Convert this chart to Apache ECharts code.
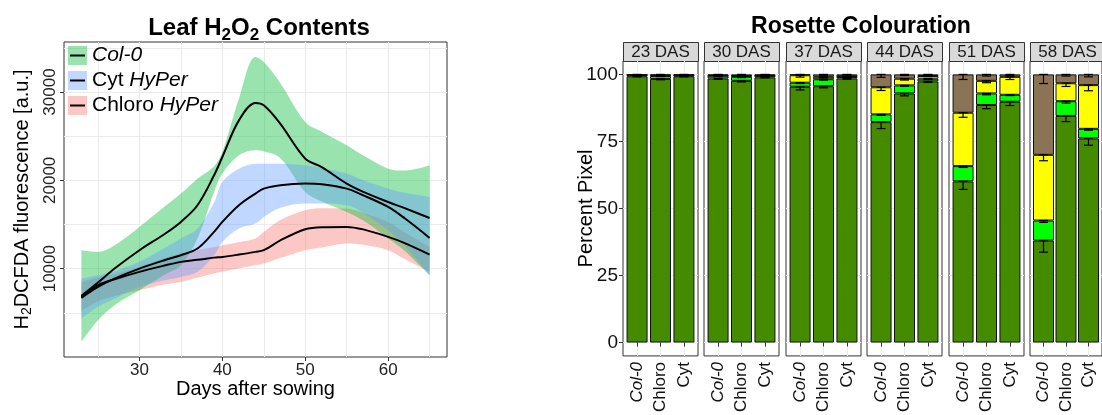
<!DOCTYPE html>
<html>
<head>
<meta charset="utf-8">
<script src="https://cdn.jsdelivr.net/npm/echarts@6/dist/echarts.min.js"></script>
<style>
html, body { margin: 0; padding: 0; background: #fff; }
#chart { width: 1102px; height: 415px; }
</style>
</head>
<body>
<div id="chart"></div>
<script>
// ---- left panel: smoothed H2DCFDA fluorescence (fit + ribbon) ----
var days = [23, 25, 27, 30, 33, 35, 37, 39, 40, 42, 44, 45, 47, 50, 52, 55, 57, 60, 62, 65];
var col0Fit = [6920, 8430, 10010, 12090, 13900, 15290, 17180, 20570, 22640, 26790, 28750, 28490, 26400, 22460, 21500, 19630, 18700, 17550, 16850, 15740];
var col0Hi  = [12090, 11900, 12650, 14730, 17000, 18500, 20190, 21600, 23210, 29240, 33950, 33390, 31000, 26600, 25500, 23960, 22800, 21320, 21100, 21700];
var col0Lo  = [1720, 4170, 5870, 7560, 9300, 10390, 13410, 18690, 20760, 22830, 23400, 23280, 22500, 18690, 17600, 16420, 15450, 13410, 12000, 9260];
var cytFit  = [6700, 7940, 8880, 10010, 10960, 11520, 12280, 14160, 15290, 17180, 18500, 19060, 19450, 19630, 19550, 19060, 18300, 16990, 15700, 13480];
var cytHi   = [8880, 9260, 9700, 10770, 12300, 13410, 14540, 17500, 19820, 21320, 21890, 21890, 21890, 21700, 21400, 20760, 20000, 19060, 18600, 18120];
var cytLo   = [4360, 5680, 6600, 7940, 8700, 9070, 9640, 11520, 13030, 14540, 15100, 15860, 16900, 17370, 17370, 17180, 16300, 14350, 12600, 9260];
var chlFit  = [6810, 8130, 8800, 9640, 10350, 10770, 11000, 11250, 11330, 11600, 11900, 12090, 13200, 14460, 14700, 14730, 14450, 13600, 12900, 11600];
var chlHi   = [8500, 9000, 9400, 10200, 11200, 11710, 12090, 12450, 12650, 13000, 13410, 14160, 15500, 16610, 16850, 16800, 16300, 15290, 14100, 12500];
var chlLo   = [5200, 6300, 6900, 7560, 8200, 8500, 9000, 9450, 9640, 10050, 10390, 10580, 11200, 12090, 12400, 12840, 12700, 12090, 11100, 9640];
var dayTicks = [30, 40, 50, 60];
var dayMinor = [25, 35, 45, 55, 65];
var fluorTicks = [10000, 20000, 30000];
var fluorMinor = [5000, 15000, 25000, 35000];
var legendNames = ['Col-0', 'Cyt HyPer', 'Chloro HyPer'];

// ---- right panel: rosette colouration, stacked % per facet (rows) and genotype (cols) ----
var facets = ['23 DAS', '30 DAS', '37 DAS', '44 DAS', '51 DAS', '58 DAS'];
var genotypes = ['Col-0', 'Chloro', 'Cyt'];
var pctTicks = [0, 25, 50, 75, 100];
var darkGreen   = [[99.3, 98.3, 99.3], [98.5, 97.6, 98.9], [95.4, 95.6, 98.5], [82.2, 92.9, 97.4], [60.1, 88.6, 89.8], [38.0, 84.5, 76.1]];
var brightGreen = [[0.4, 1.1, 0.3], [1.0, 1.5, 0.6], [1.5, 2.6, 0.6], [2.9, 3.0, 1.0], [5.7, 4.3, 2.6], [7.5, 5.5, 3.6]];
var yellow      = [[0.1, 0.3, 0.1], [0.1, 0.3, 0.1], [2.8, 0.9, 0.2], [10.1, 2.5, 1.0], [19.9, 4.7, 6.7], [24.5, 6.7, 16.3]];
var brown       = [[0.2, 0.3, 0.3], [0.4, 0.6, 0.4], [0.3, 0.9, 0.7], [4.8, 1.6, 0.6], [14.3, 2.4, 0.9], [30.0, 3.3, 4.0]];
var darkErr     = [[0.2, 0.3, 0.2], [0.3, 0.4, 0.2], [1.2, 0.6, 0.3], [2.4, 0.9, 0.4], [3.0, 1.4, 1.4], [4.3, 2.1, 2.5]];
var brightErr   = [[0.1, 0.2, 0.1], [0.2, 0.3, 0.1], [0.3, 0.3, 0.2], [0.4, 0.3, 0.2], [0.5, 0.5, 0.3], [0.7, 0.7, 0.5]];
var yellowErr   = [[0.1, 0.1, 0.1], [0.1, 0.1, 0.1], [0.7, 0.3, 0.1], [1.2, 0.5, 0.2], [1.7, 0.7, 1.0], [2.2, 1.2, 2.1]];
var brownErr    = [[0.1, 0.1, 0.1], [0.1, 0.1, 0.1], [0.2, 0.3, 0.2], [1.1, 0.4, 0.2], [1.9, 0.6, 0.4], [3.4, 0.6, 0.9]];

var FONT = 'Liberation Sans';
var myChart = echarts.init(document.getElementById('chart'));

// value first so that stacking (which uses the first numeric dimension) sums y, not x
function pairs(ys) {
	return days.map(function(d, i) { return [ys[i], d]; });
}
function widths(hi, lo) {
	return days.map(function(d, i) { return [hi[i] - lo[i], d]; });
}

// drawn in factor order (alphabetical), ribbon then line per group
var groups = [
	{ name: 'Chloro HyPer', fit: chlFit, hi: chlHi, lo: chlLo, color: 'rgba(248,118,109,0.4)' },
	{ name: 'Col-0', fit: col0Fit, hi: col0Hi, lo: col0Lo, color: 'rgba(0,186,56,0.4)' },
	{ name: 'Cyt HyPer', fit: cytFit, hi: cytHi, lo: cytLo, color: 'rgba(97,156,255,0.4)' }
];
var colorOf = {};
var series = [];
groups.forEach(function(g) {
	colorOf[g.name] = g.color;
	series.push({
		type: 'line', name: g.name + ' lo', xAxisIndex: 0, yAxisIndex: 0, stack: g.name,
		encode: { x: 1, y: 0 },
		data: pairs(g.lo), smooth: 0.35, symbol: 'none', silent: true,
		lineStyle: { opacity: 0, width: 0 }
	});
	series.push({
		type: 'line', name: g.name, xAxisIndex: 0, yAxisIndex: 0, stack: g.name,
		encode: { x: 1, y: 0 },
		data: widths(g.hi, g.lo), smooth: 0.35, symbol: 'none', silent: true,
		itemStyle: { color: g.color },
		lineStyle: { width: 0, opacity: 0 },
		areaStyle: { color: g.color, opacity: 1 }
	});
	series.push({
		type: 'line', name: g.name + ' fit', xAxisIndex: 0, yAxisIndex: 0,
		encode: { x: 1, y: 0 },
		data: pairs(g.fit), smooth: 0.35, symbol: 'none', silent: true,
		lineStyle: { color: '#000', width: 2 }
	});
});

// facet geometry
var facetLeft = [623, 704, 786, 867, 949, 1030];
var facetW = 75, facetTop = 61, facetH = 295, stripTop = 42;

var grids = [{ left: 64, top: 42, width: 383, height: 315, show: true, borderColor: '#333', borderWidth: 1 }];
var xAxes = [
	{
		gridIndex: 0, type: 'value', min: 20.9, max: 67.1, splitNumber: 5,
		axisLine: { show: false },
		axisTick: { show: true, length: 4, customValues: dayTicks, lineStyle: { color: '#333' } },
		axisLabel: { customValues: dayTicks, fontSize: 17, color: '#222', margin: 5, fontFamily: FONT,
			formatter: function(v) { return v % 10 === 0 ? String(v) : ''; } },
		splitLine: { show: true, lineStyle: { color: '#ebebeb', width: 1.2 } },
		name: 'Days after sowing', nameLocation: 'middle', nameGap: 22, nameMoveOverlap: false,
		nameTextStyle: { fontSize: 20, color: '#000', fontFamily: FONT }
	},
	{
		gridIndex: 0, type: 'value', min: 20.9, max: 67.1, splitNumber: 10,
		axisLine: { show: false }, axisTick: { show: false, customValues: dayMinor }, axisLabel: { show: false, customValues: dayMinor },
		splitLine: { show: true, lineStyle: { color: '#ebebeb', width: 1 } }
	}
];
var yAxes = [
	{
		gridIndex: 0, type: 'value', min: 0, max: 35660,
		axisLine: { show: false },
		axisTick: { show: true, length: 4, customValues: fluorTicks, lineStyle: { color: '#333' } },
		axisLabel: { customValues: fluorTicks, rotate: 90, fontSize: 17, color: '#222', margin: 5, fontFamily: FONT,
			formatter: function(v) { return (v > 0 && v % 10000 === 0) ? String(v) : ''; } },
		splitLine: { show: true, lineStyle: { color: '#ebebeb', width: 1.2 } },
		name: '{a|H}{s|2}{a|DCFDA fluorescence [a.u.]}', nameLocation: 'middle', nameGap: 30, nameRotate: 90,
		nameMoveOverlap: false,
		nameTextStyle: { fontFamily: FONT, rich: {
			a: { fontSize: 20, color: '#000', fontFamily: FONT },
			s: { fontSize: 14, color: '#000', fontFamily: FONT, padding: [10, 0, 0, 0] }
		} }
	},
	{
		gridIndex: 0, type: 'value', min: 0, max: 35660,
		axisLine: { show: false }, axisTick: { show: false, customValues: fluorMinor }, axisLabel: { show: false, customValues: fluorMinor },
		splitLine: { show: true, lineStyle: { color: '#ebebeb', width: 1 } }
	}
];

var layers = [
	{ vals: darkGreen, err: darkErr, color: '#458B00' },
	{ vals: brightGreen, err: brightErr, color: '#00FF00' },
	{ vals: yellow, err: yellowErr, color: '#FFFF00' },
	{ vals: brown, err: brownErr, color: '#8B7355' }
];

function renderErr(params, api) {
	var x = api.value(0);
	var top = api.coord([x, api.value(1)]);
	var bot = api.coord([x, api.value(2)]);
	var hw = 4.5;
	var st = { stroke: '#000', lineWidth: 1.2 };
	return {
		type: 'group',
		children: [
			{ type: 'line', shape: { x1: top[0], y1: top[1], x2: bot[0], y2: bot[1] }, style: st },
			{ type: 'line', shape: { x1: top[0] - hw, y1: top[1], x2: top[0] + hw, y2: top[1] }, style: st },
			{ type: 'line', shape: { x1: bot[0] - hw, y1: bot[1], x2: bot[0] + hw, y2: bot[1] }, style: st }
		]
	};
}

var graphics = [];
facets.forEach(function(label, f) {
	var gi = f + 1, ai = f + 2;
	grids.push({ left: facetLeft[f], top: facetTop, width: facetW, height: facetH, show: true, borderColor: '#333', borderWidth: 1 });
	xAxes.push({
		gridIndex: gi, type: 'value', min: 0.4, max: 3.6, splitNumber: 3,
		axisLine: { show: false },
		axisTick: { show: true, length: 4, customValues: [1, 2, 3], lineStyle: { color: '#333' } },
		axisLabel: { customValues: [1, 2, 3], rotate: 90, fontSize: 17, color: '#111', margin: 6, fontFamily: FONT,
			formatter: function(v) {
				var k = Math.round(v);
				if (Math.abs(v - k) > 1e-6 || k < 1 || k > 3) return '';
				return k === 1 ? '{i|' + genotypes[0] + '}' : genotypes[k - 1];
			},
			rich: { i: { fontStyle: 'italic', fontSize: 17, color: '#111', fontFamily: FONT } } },
		splitLine: { show: true, lineStyle: { color: '#ebebeb', width: 1 } }
	});
	yAxes.push({
		gridIndex: gi, type: 'value', min: -5, max: 105,
		axisLine: { show: false },
		axisTick: { show: f === 0, length: 4, customValues: pctTicks, lineStyle: { color: '#333' } },
		axisLabel: { show: f === 0, customValues: pctTicks, fontSize: 19, color: '#111', margin: 5, fontFamily: FONT,
			formatter: function(v) { return pctTicks.indexOf(v) >= 0 ? String(v) : ''; } },
		splitLine: { show: true, lineStyle: { color: '#ebebeb', width: 1 } },
		name: f === 0 ? 'Percent Pixel' : '', nameLocation: 'middle', nameGap: 27, nameMoveOverlap: false,
		nameTextStyle: { fontSize: 20, color: '#000', fontFamily: FONT }
	});

	var cum = [0, 0, 0];
	var errData = [];
	layers.forEach(function(L) {
		series.push({
			type: 'bar', xAxisIndex: ai, yAxisIndex: ai, stack: 'facet' + f, barWidth: 21, silent: true,
			encode: { x: 1, y: 0 },
			data: genotypes.map(function(g, k) { return [L.vals[f][k], k + 1]; }),
			itemStyle: { color: L.color, borderColor: '#111', borderWidth: 1 }
		});
		genotypes.forEach(function(g, k) {
			cum[k] += L.vals[f][k];
			errData.push([k + 1, cum[k], cum[k] - L.err[f][k]]);
		});
	});
	series.push({
		type: 'custom', xAxisIndex: ai, yAxisIndex: ai, z: 5, silent: true,
		renderItem: renderErr, encode: { x: 0, y: [1, 2] }, data: errData
	});

	graphics.push({
		type: 'group', children: [
			{ type: 'rect', shape: { x: facetLeft[f] + 0.5, y: stripTop + 0.5, width: facetW, height: facetTop - stripTop },
				style: { fill: '#d9d9d9', stroke: '#333', lineWidth: 1 } },
			{ type: 'text', style: { text: label, x: facetLeft[f] + facetW / 2, y: stripTop + (facetTop - stripTop) / 2 + 1,
				align: 'center', verticalAlign: 'middle', font: '17px "Liberation Sans"', fill: '#1a1a1a' } }
		]
	});
});

var option = {
	animation: false,
	backgroundColor: '#fff',
	textStyle: { fontFamily: FONT },
	title: [
		{
			text: '{a|Leaf H}{s|2}{a|O}{s|2}{a| Contents}', left: 254, top: 8, textAlign: 'center',
			textStyle: { rich: {
				a: { fontSize: 24, fontWeight: 'bold', color: '#000', fontFamily: FONT },
				s: { fontSize: 17, fontWeight: 'bold', color: '#000', fontFamily: FONT, padding: [14, 0, 0, 0] }
			} }
		},
		{
			text: 'Rosette Colouration', left: 856, top: 10, textAlign: 'center',
			textStyle: { fontSize: 23, fontWeight: 'bold', color: '#000', fontFamily: FONT }
		}
	],
	legend: [
		{
			left: 68, top: 45, padding: 0, orient: 'vertical', icon: 'rect', itemWidth: 19, itemHeight: 19, itemGap: 4,
			selectedMode: false,
			data: legendNames.map(function(n) { return { name: n, itemStyle: { color: colorOf[n], borderWidth: 0 } }; }),
			formatter: function(name) {
				return name === 'Col-0' ? '{i|Col-0}' : name.replace(' HyPer', ' {i|HyPer}');
			},
			textStyle: { fontSize: 21, color: '#000', lineHeight: 19, fontFamily: FONT,
				rich: { i: { fontStyle: 'italic', fontSize: 21, lineHeight: 19, color: '#000', fontFamily: FONT } } }
		},
		{
			left: 70, top: 45, padding: 0, orient: 'vertical', icon: 'rect', itemWidth: 15, itemHeight: 2, itemGap: 4,
			selectedMode: false,
			data: legendNames.map(function(n) { return { name: n, itemStyle: { color: '#000', borderWidth: 0 } }; }),
			itemStyle: { color: '#000' },
			formatter: function() { return ' '; },
			textStyle: { fontSize: 21, lineHeight: 19, color: 'rgba(0,0,0,0)' }
		}
	],
	grid: grids,
	xAxis: xAxes,
	yAxis: yAxes,
	graphic: graphics,
	series: series
};
myChart.setOption(option);
</script>
</body>
</html>
